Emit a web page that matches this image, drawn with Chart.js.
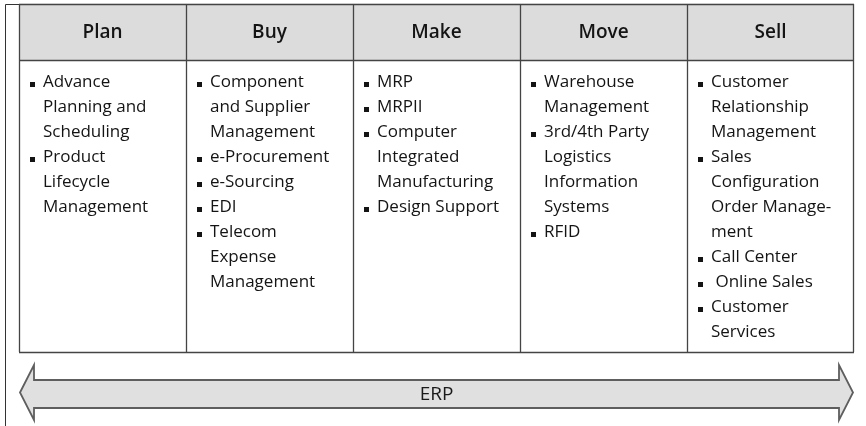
<!DOCTYPE html>
<html>
<head>
<meta charset="utf-8">
<style>
  html, body { margin: 0; padding: 0; background: #fff; }
  #wrap { width: 866px; height: 426px; }
</style>
<script src="https://cdn.jsdelivr.net/npm/chart.js@4/dist/chart.umd.min.js"></script>
</head>
<body>
<div id="wrap"><canvas id="erp"></canvas></div>
<script>
(function () {
  "use strict";

  // ---- diagram content ----
  const stages = ["Plan", "Buy", "Make", "Move", "Sell"];
  const planItems = [["Advance", "Planning and", "Scheduling"], ["Product", "Lifecycle", "Management"]];
  const buyItems = [["Component", "and Supplier", "Management"], ["e-Procurement"], ["e-Sourcing"], ["EDI"], ["Telecom", "Expense", "Management"]];
  const makeItems = [["MRP"], ["MRPII"], ["Computer", "Integrated", "Manufacturing"], ["Design Support"]];
  const moveItems = [["Warehouse", "Management"], ["3rd/4th Party", "Logistics", "Information", "Systems"], ["RFID"]];
  const sellItems = [["Customer", "Relationship", "Management"], ["Sales", "Configuration", "Order Manage-", "ment"], ["Call Center"], [" Online Sales"], ["Customer", "Services"]];
  const stageItems = [planItems, buyItems, makeItems, moveItems, sellItems];
  const bandLabel = "ERP";

  // layout (y values in canvas units, top = 0)
  const TABLE_TOP = 4, HEADER_BOTTOM = 60, TABLE_BOTTOM = 352;
  const ARROW = { top: 365, shaftTop: 380, shaftBottom: 408, bottom: 420, head: 14 };
  const LINE_H = 25, FIRST_BASELINE = 87;
  const BODY_FONT = "500 17px 'Open Sans', sans-serif";
  const HEAD_FONT = "600 19px 'Open Sans', sans-serif";
  const LINE_COL = "#444";

  const crisp = v => Math.round(v) + 0.5;

  const tablePlugin = {
    id: "erpTable",
    beforeDatasetsDraw(chart) {
      const c = chart.ctx, x = chart.scales.x, y = chart.scales.y;
      // outer page frame
      c.save();
      c.strokeStyle = "#333";
      c.lineWidth = 1;
      c.beginPath();
      c.moveTo(crisp(5), 426);
      c.lineTo(crisp(5), crisp(y.getPixelForValue(TABLE_TOP)));
      c.lineTo(x.right, crisp(y.getPixelForValue(TABLE_TOP)));
      c.stroke();
      c.restore();
    },
    afterDatasetsDraw(chart) {
      const c = chart.ctx, x = chart.scales.x, y = chart.scales.y;
      const colW = x.getPixelForValue(1) - x.getPixelForValue(0);
      const top = y.getPixelForValue(TABLE_TOP), hb = y.getPixelForValue(HEADER_BOTTOM), bot = y.getPixelForValue(TABLE_BOTTOM);

      c.save();
      c.strokeStyle = LINE_COL;
      c.lineWidth = 1.3;
      c.beginPath();
      // vertical dividers
      for (let i = 0; i <= stages.length; i++) {
        const px = Math.min(crisp(x.getPixelForValue(i) - colW / 2), x.right - 0.5);
        c.moveTo(px, top);
        c.lineTo(px, bot);
      }
      // horizontals
      [top, hb, bot].forEach(py => {
        c.moveTo(x.left, crisp(py));
        c.lineTo(x.right, crisp(py));
      });
      c.stroke();

      // headers
      c.fillStyle = "#141414";
      c.font = HEAD_FONT;
      c.textAlign = "center";
      c.textBaseline = "middle";
      stages.forEach((s, i) => c.fillText(s, x.getPixelForValue(i), (top + hb) / 2 + 1));

      // bullet items
      c.font = BODY_FONT;
      c.textAlign = "left";
      c.textBaseline = "alphabetic";
      stageItems.forEach((items, i) => {
        const left = x.getPixelForValue(i) - colW / 2;
        let line = 0;
        items.forEach(lines => {
          lines.forEach((txt, k) => {
            const by = y.getPixelForValue(FIRST_BASELINE + line * LINE_H);
            if (k === 0) c.fillRect(Math.round(left + 11), Math.round(by - 5), 5, 5);
            c.fillText(txt, left + 24, by);
            line++;
          });
        });
      });

      // ERP double arrow
      const l = x.left + 1, r = x.right - 1;
      const yt = y.getPixelForValue(ARROW.top), st = y.getPixelForValue(ARROW.shaftTop);
      const sb = y.getPixelForValue(ARROW.shaftBottom), yb = y.getPixelForValue(ARROW.bottom);
      const mid = (yt + yb) / 2;
      c.beginPath();
      c.moveTo(l, mid);
      c.lineTo(l + ARROW.head, yt);
      c.lineTo(l + ARROW.head, st);
      c.lineTo(r - ARROW.head, st);
      c.lineTo(r - ARROW.head, yt);
      c.lineTo(r, mid);
      c.lineTo(r - ARROW.head, yb);
      c.lineTo(r - ARROW.head, sb);
      c.lineTo(l + ARROW.head, sb);
      c.lineTo(l + ARROW.head, yb);
      c.closePath();
      c.fillStyle = "#e0e0e0";
      c.fill();
      c.strokeStyle = "#5e5e5e";
      c.lineWidth = 1.8;
      c.stroke();
      c.fillStyle = "#1a1a1a";
      c.font = "19px 'Open Sans', sans-serif";
      c.textAlign = "center";
      c.textBaseline = "middle";
      c.fillText(bandLabel, (l + r) / 2, (st + sb) / 2 + 1);
      c.restore();
    }
  };

  new Chart(document.getElementById("erp"), {
    type: "bar",
    data: {
      labels: stages,
      datasets: [
        {
          label: "header",
          data: stages.map(() => [TABLE_TOP, HEADER_BOTTOM]),
          backgroundColor: "#dcdcdc",
          borderWidth: 0,
          barPercentage: 1,
          categoryPercentage: 1,
          grouped: false
        },
        {
          label: "body",
          data: stages.map(() => [HEADER_BOTTOM, TABLE_BOTTOM]),
          backgroundColor: "#ffffff",
          borderWidth: 0,
          barPercentage: 1,
          categoryPercentage: 1,
          grouped: false
        }
      ]
    },
    options: {
      responsive: true,
      maintainAspectRatio: false,
      animation: false,
      layout: { padding: { left: 19, right: 12, top: 0, bottom: 0 } },
      plugins: { legend: { display: false }, tooltip: { enabled: false } },
      scales: {
        x: { display: false, offset: true },
        y: { display: false, min: 0, max: 426, reverse: true }
      }
    },
    plugins: [tablePlugin]
  });
})();
</script>
</body>
</html>
